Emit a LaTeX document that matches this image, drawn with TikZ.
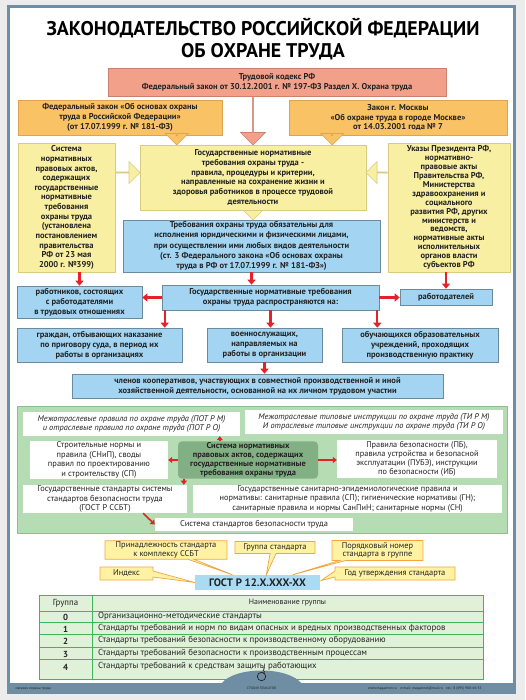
\documentclass[tikz,border=0pt]{standalone}
\usepackage{fontspec}
\setmainfont{PT Sans}
\usetikzlibrary{shapes.arrows,shapes.callouts,arrows.meta,calc,positioning}
\definecolor{framec}{HTML}{6F8EA3}
\definecolor{bgc}{HTML}{ECECEC}
\definecolor{txtc}{HTML}{232323}
\definecolor{trkfill}{HTML}{F3A08B}
\definecolor{trkdraw}{HTML}{C98170}
\definecolor{orfill}{HTML}{F9C265}
\definecolor{ordraw}{HTML}{DDA350}
\definecolor{yefill}{HTML}{F8EFA3}
\definecolor{yedraw}{HTML}{D9CB80}
\definecolor{blfill}{HTML}{A3D5F2}
\definecolor{bldraw}{HTML}{6C8A9E}
\definecolor{arrred}{HTML}{E62129}
\definecolor{grfill}{HTML}{B5DCB3}
\definecolor{grdraw}{HTML}{8CBF8C}
\definecolor{grdark}{HTML}{82B084}
\definecolor{clfill}{HTML}{FFF3A3}
\definecolor{cldraw}{HTML}{F4A441}
\definecolor{gostfill}{HTML}{ABDAF3}
\definecolor{tabdraw}{HTML}{3FB55C}
\definecolor{tabfill}{HTML}{E1F1D9}
\tikzset{
  box/.style={draw,line width=0.6pt,align=center,inner sep=1pt,text=txtc,
    font=\fontsize{8.5}{9.8}\selectfont\bfseries},
  redbox/.style={box,fill=trkfill,draw=trkdraw},
  orbox/.style={box,fill=orfill,draw=ordraw},
  yebox/.style={box,fill=yefill,draw=yedraw},
  blbox/.style={box,fill=blfill,draw=bldraw},
  wbox/.style={fill=white,align=center,inner sep=1pt,text=txtc,
    font=\fontsize{8.4}{9.4}\selectfont},
  callbox/.style={rectangle callout,fill=clfill,draw=cldraw,line width=0.7pt,
    align=center,inner sep=1pt,text=txtc,callout pointer width=6pt,
    font=\fontsize{8.4}{8.8}\selectfont},
  blkarrow/.style={single arrow,line width=0.6pt,inner sep=0pt,
    minimum width=25pt,single arrow head extend=6pt},
  blkred/.style={blkarrow,fill=trkfill,draw=trkdraw},
  blkor/.style={blkarrow,fill=orfill,draw=ordraw,minimum width=23pt},
  blkye/.style={blkarrow,fill=yefill,draw=yedraw,minimum width=22pt},
  redarr/.style={draw=arrred,line width=2.3pt,-{Triangle[length=5pt,width=8pt]}},
  smallarr/.style={redarr,line width=1.6pt,-{Triangle[length=4pt,width=6pt]}},
  tabtxt/.style={text=txtc,inner sep=0pt,font=\fontsize{8.8}{10}\selectfont},
}
% block arrow from one anchor to another
\newcommand{\blockarrow}[3][]{%
  \path let \p1=(#2), \p2=(#3),
    \n1={veclen(\x2-\x1,\y2-\y1)}, \n2={atan2(\y2-\y1,\x2-\x1)} in
    node[blkarrow,#1,anchor=tail,rotate=\n2,minimum height=\n1] at (\p1) {};}

\begin{document}
\begin{tikzpicture}[x=1pt,y=-1pt]
\useasboundingbox (0,0) rectangle (525,700);

% frame
\fill[bgc] (0,0) rectangle (525,700);
\fill[white] (8,5) rectangle (515,693);
\draw[framec,line width=3pt] (8.5,6.5) rectangle (514,692);

% title
\node[font=\fontsize{19.8}{24}\selectfont\bfseries,text=black] (ttl1) at (263,28) {ЗАКОНОДАТЕЛЬСТВО РОССИЙСКОЙ ФЕДЕРАЦИИ};
\node[font=\fontsize{19.8}{24}\selectfont\bfseries,text=black] (ttl2) at (263,52) {ОБ ОХРАНЕ ТРУДА};

% laws
\node[redbox,minimum width=338pt,minimum height=28pt] (trk) at (277,82)
  {Трудовой кодекс РФ\\Федеральный закон от 30.12.2001 г. № 197-ФЗ Раздел Х. Охрана труда};
\node[orbox,minimum width=204pt,minimum height=35pt] (fzl) at (120,117.5)
  {Федеральный закон «Об основах охраны\\труда в Российской Федерации»\\(от 17.07.1999 г. № 181-ФЗ)};
\node[orbox,minimum width=218pt,minimum height=35pt] (zmk) at (398,117.5)
  {Закон г. Москвы\\«Об охране труда в городе Москве»\\от 14.03.2001 года № 7};

\node[yebox,minimum width=226pt,minimum height=65pt] (gov) at (253,177.5)
  {Государственные нормативные\\требования охраны труда -\\правила, процедуры и критерии,\\направленные на сохранение жизни и\\здоровья работников в процессе трудовой\\деятельности};
\node[yebox,minimum width=97pt,minimum height=129pt,
  font=\fontsize{8.5}{9.6}\selectfont\bfseries] (sys) at (66.5,207.5)
  {Система\\нормативных\\правовых актов,\\содержащих\\государственные\\нормативные\\требования\\охраны труда\\(установлена\\постановлением\\правительства\\РФ от 23 мая\\2000 г. №399)};
\node[yebox,minimum width=122pt,minimum height=129pt,
  font=\fontsize{8.5}{8.9}\selectfont\bfseries] (ukz) at (449,207.5)
  {Указы Президента РФ,\\нормативно-\\правовые акты\\Правительства РФ,\\Министерства\\здравоохранения и\\социального\\развития РФ, других\\министерств и\\ведомств,\\нормативные акты\\исполнительных\\органов власти\\субъектов РФ};
\node[blbox,minimum width=257pt,minimum height=52pt,
  font=\fontsize{8.5}{10.2}\selectfont\bfseries] (obz) at (251.5,246)
  {Требования охраны труда обязательны для\\исполнения юридическими и физическими лицами,\\при осуществлении ими любых видов деятельности\\(ст. 3 Федерального закона «Об основах охраны\\труда в РФ от 17.07.1999 г. № 181-ФЗ»)};

% block arrows
\coordinate (orl) at ($(gov.north west)+(37,0)$);
\coordinate (orr) at ($(gov.north east)+(-34,0)$);
\coordinate (yel) at ($(gov.west)+(0,-5)$);
\coordinate (yer) at ($(gov.east)+(0,-5)$);
\blockarrow[blkred]{gov.north |- trk.south}{gov.north}
\blockarrow[blkor]{orl |- fzl.south}{orl}
\blockarrow[blkor]{orr |- zmk.south}{orr}
\blockarrow[blkye]{yel -| sys.east}{yel}
\blockarrow[blkye]{yer -| ukz.west}{yer}
\blockarrow[blkye,minimum width=19pt,single arrow head extend=4pt]{gov.south}{gov.south |- obz.north}

% who is covered
\node[blbox,minimum width=125pt,minimum height=32pt] (rab) at (79.5,302)
  {работников, состоящих\\с работодателями\\в трудовых отношениях};
\node[blbox,minimum width=217pt,minimum height=25pt] (rasp) at (270.5,297.5)
  {Государственные нормативные требования\\охраны труда распространяются на:};
\node[blbox,minimum width=92pt,minimum height=16pt] (rdt) at (446,297) {работодателей};
\node[blbox,minimum width=165pt,minimum height=34pt] (grz) at (99.5,345)
  {граждан, отбывающих наказание\\по приговору суда, в период их\\работы в организациях};
\node[blbox,minimum width=115pt,minimum height=34pt] (vsl) at (264.5,345)
  {военнослужащих,\\направляемых на\\работы в организации};
\node[blbox,minimum width=156pt,minimum height=34pt] (obuch) at (420,345)
  {обучающихся образовательных\\учреждений, проходящих\\производственную практику};
\node[blbox,minimum width=371pt,minimum height=24pt] (chl) at (257.5,386)
  {членов кооперативов, участвующих в совместной производственной и иной\\хозяйственной деятельности, основанной на их личном трудовом участии};

\coordinate (rsl) at ($(rasp.south west)+(3,0)$);
\coordinate (rsr) at ($(rasp.south east)+(-2,0)$);
\draw[redarr] (rab.north |- sys.south) -- (rab.north);
\draw[redarr] (obz.south) -- (obz.south |- rasp.north);
\draw[redarr] (rdt.north |- ukz.south) -- (rdt.north);
\draw[redarr] (rasp.west) -- (rab.east |- rasp.west);
\draw[redarr] (rasp.east) -- (rdt.west |- rasp.east);
\draw[redarr] (rsl) -- (rsl |- grz.north);
\draw[redarr] (rasp.south) -- (rasp.south |- vsl.north);
\draw[redarr] (rsr) -- (rsr |- obuch.north);
\draw[redarr] (vsl.south) -- (vsl.south |- chl.north);

% system of normative acts
\node[fill=grfill,draw=grdraw,line width=1pt,minimum width=490pt,minimum height=127pt] (panel) at (262,469.5) {};
\node[wbox,minimum width=217pt,minimum height=24pt,font=\fontsize{8.3}{9.4}\selectfont\itshape] (pot) at (131.5,424)
  {Межотраслевые правила по охране труда (ПОТ Р М)\\и отраслевые правила по охране труда (ПОТ Р О)};
\node[wbox,minimum width=258pt,minimum height=24pt,font=\fontsize{8.3}{9.4}\selectfont\itshape] (tip) at (374,422)
  {Межотраслевые типовые инструкции по охране труда (ТИ Р М)\\И отраслевые типовые инструкции по охране труда (ТИ Р О)};
\node[wbox,minimum width=138pt,minimum height=36pt] (snip) at (99,460)
  {Строительные нормы и\\правила (СНиП), своды\\правил по проектированию\\и строительству (СП)};
\node[wbox,fill=grdark,rounded corners=4pt,minimum width=140pt,minimum height=36pt,
  font=\fontsize{8.4}{9.2}\selectfont\bfseries] (sna) at (248,460)
  {Система нормативных\\правовых актов, содержащих\\государственные нормативные\\требования охраны труда};
\node[wbox,minimum width=160pt,minimum height=36pt,font=\fontsize{8.3}{9.2}\selectfont] (pb) at (417,459)
  {Правила безопасности (ПБ),\\правила устройства и безопасной\\эксплуатации (ПУБЭ), инструкции\\по безопасности (ИБ)};
\node[wbox,minimum width=164pt,minimum height=28pt,font=\fontsize{8.4}{9.2}\selectfont] (gost) at (105,499)
  {Государственные стандарты системы\\стандартов безопасности труда\\(ГОСТ Р ССБТ)};
\node[wbox,minimum width=309pt,minimum height=28pt,font=\fontsize{8.3}{9.2}\selectfont] (san) at (347.5,499)
  {Государственные санитарно-эпидемиологические правила и\\нормативы: санитарные правила (СП); гигиенические нормативы (ГН);\\санитарные правила и нормы СанПиН; санитарные нормы (СН)};
\node[wbox,minimum width=198pt,minimum height=13pt,font=\fontsize{8.4}{9}\selectfont] (ssbt) at (254,524.5)
  {Система стандартов безопасности труда};

\coordinate (snu) at ($(sna.north west)+(42,0)$);
\coordinate (snd) at ($(sna.south west)+(6,0)$);
\draw[smallarr] (snu) -- (snu |- pot.south);
\draw[smallarr] (snd) -- (snd |- gost.north);
\draw[smallarr] (sna.west) -- (snip.east);
\draw[smallarr] (sna.east) -- (pb.west |- sna.east);
\draw[smallarr] ($(gost.south east)+(-44,0)$) -- (ssbt.west);

% standard designation
\node[fill=gostfill,minimum width=125pt,minimum height=15pt,inner sep=0pt,text=txtc,
  font=\fontsize{10.8}{12}\selectfont\bfseries] (gostcode) at (257.5,582.5) {ГОСТ Р 12.Х.ХХХ-ХХ};
\node[callbox,minimum width=122pt,minimum height=18pt,
  callout absolute pointer={($(gostcode.north west)!0.3!(gostcode.north east)$)}] (clcompl) at (166,550)
  {Принадлежность стандарта\\к комплексу ССБТ};
\node[callbox,minimum width=80pt,minimum height=12pt,
  callout absolute pointer={($(gostcode.north west)!0.57!(gostcode.north east)$)}] (clgroup) at (275,547.5)
  {Группа стандарта};
\node[callbox,minimum width=91pt,minimum height=20pt,
  callout absolute pointer={($(gostcode.north west)!0.78!(gostcode.north east)$)}] (clnum) at (377.5,550.5)
  {Порядковый номер\\стандарта в группе};
\node[callbox,minimum width=53pt,minimum height=13pt,
  callout absolute pointer={(gostcode.west)}] (clind) at (126.5,573.5) {Индекс};
\node[callbox,minimum width=120pt,minimum height=13pt,
  callout absolute pointer={($(gostcode.east)+(1,-2)$)}] (clyear) at (395,573.5)
  {Год утверждения стандарта};

% groups table
\fill[tabfill] (39,595) rectangle (483,679);
\draw[tabdraw,line width=1pt] (39,595) rectangle (483,679);
\foreach \y in {611,622,634,647,659}
  \draw[tabdraw,line width=0.8pt] (39,\y) -- (483,\y);
\draw[tabdraw,line width=1pt] (92,595) -- (92,679);
\node[tabtxt] (hgroup) at (65.5,603) {Группа};
\node[tabtxt,font=\fontsize{7.8}{9}\selectfont] (hname) at (287.5,603) {Наименование группы};
\foreach \n/\y/\t in {0/616.5/{Организационно-методические стандарты},
    1/628/{Стандарты требований и норм по видам опасных и вредных производственных факторов},
    2/640.5/{Стандарты требований безопасности к производственному оборудованию},
    3/653/{Стандарты требований безопасности к производственным процессам},
    4/666/{Стандарты требований к средствам защиты работающих}}{
  \node[tabtxt,font=\fontsize{8.8}{10}\selectfont\bfseries] (num\n) at (65.5,\y+1) {\n};
  \node[tabtxt,anchor=west] (grp\n) at (98,\y) {\t};
}

% bottom bar
\fill[framec] (7,683) rectangle (516,694);
\fill[framec] (221,684) .. controls (234,666) and (289,666) .. (302,684);
\draw[txtc,line width=0.7pt] (261.5,676.5) circle (4.2);
\draw[txtc,line width=0.6pt] (263,673.5) arc (90:-90:1.6) arc (90:-90:1.4);
\node[font=\fontsize{3.4}{4}\selectfont,text=txtc] (studio) at (261.5,688.5) {СТУДИЯ ПЛАКАТОВ};
\node[font=\fontsize{3.6}{4}\selectfont,text=txtc,anchor=west] (shop) at (12,689) {магазин охраны труда};
\node[font=\fontsize{3.6}{4}\selectfont,text=txtc,anchor=east] (contact) at (485,689)
  {www.magazinot.ru\quad e-mail: magazinot@mail.ru\quad tel.: 8 (495) 980-44-35};
\end{tikzpicture}
\end{document}
